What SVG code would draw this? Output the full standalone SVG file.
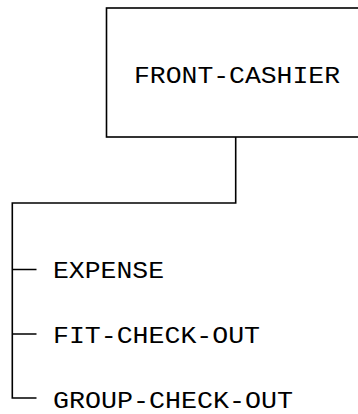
<svg xmlns="http://www.w3.org/2000/svg" width="358" height="414" viewBox="0 0 358 414">
<style>
.ln{fill:none;stroke:#000;stroke-width:1.6}
.t{font-family:"Liberation Mono","DejaVu Sans Mono",monospace;font-size:24px;fill:#000}
</style>
<rect width="358" height="414" fill="#fff"/>
<g id="front-cashier">
<rect class="ln" x="106.5" y="8" width="270" height="129"/>
<text class="t" x="134" y="83" textLength="206" lengthAdjust="spacingAndGlyphs">FRONT-CASHIER</text>
</g>
<g id="connectors">
<path class="ln" d="M235.7 137 V203 H12.3 V398 H36.5 M12.3 269.5 H36.5 M12.3 334 H36.5"/>
</g>
<g id="expense">
<text class="t" x="53" y="278" textLength="111" lengthAdjust="spacingAndGlyphs">EXPENSE</text>
</g>
<g id="fit-check-out">
<text class="t" x="53" y="343" textLength="207" lengthAdjust="spacingAndGlyphs">FIT-CHECK-OUT</text>
</g>
<g id="group-check-out">
<text class="t" x="53" y="408" textLength="240" lengthAdjust="spacingAndGlyphs">GROUP-CHECK-OUT</text>
</g>
</svg>
